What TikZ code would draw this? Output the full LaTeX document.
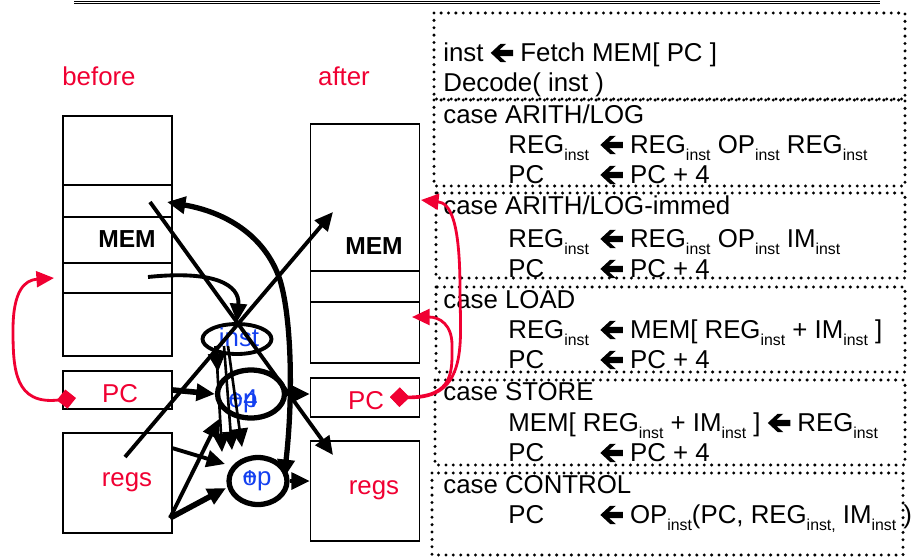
\documentclass[tikz,border=0pt]{standalone}
\usepackage{fontspec}
\setmainfont{Liberation Sans}
\usetikzlibrary{arrows.meta,shapes.geometric}
\definecolor{hot}{HTML}{F00032}
\definecolor{cool}{HTML}{1440F0}
\tikzset{>={Triangle[length=10.5pt,width=9.5pt]},
  every node/.style={font=\fontsize{14.7}{17}\selectfont,inner sep=0pt},
  box/.style={draw,line width=.8pt,minimum width=2.18cm},
  unit/.style={draw,ellipse,line width=3pt,inner sep=0pt},
  wire/.style={->,line width=2.2pt},
  heavy/.style={->,line width=3.2pt},
  back/.style={{Diamond[length=11pt,width=11pt]}-{Triangle[length=10pt,width=9pt]},draw=hot,line width=1.6pt},
  casebox/.style={draw,line width=1.9pt,dash pattern=on 0pt off 4.2pt,line cap=round},
  txt/.style={anchor=base west},
  lbl/.style={anchor=base,text=hot},
  sig/.style={anchor=base,text=cool},
  memtxt/.style={anchor=base,font=\fontsize{14}{17}\selectfont\bfseries}}
\newcommand\sub[1]{\raisebox{-.3em}{\fontsize{9}{9}\selectfont#1}}
\newcommand\larr{\tikz[baseline=0pt]\fill(0pt,4.6pt)--(5.6pt,9.8pt)--(8.8pt,9.8pt)--(5pt,6.4pt)--(12.8pt,6.4pt)--(12.8pt,2.8pt)--(5pt,2.8pt)--(8.8pt,-.6pt)--(5.6pt,-.6pt)--cycle;}

\begin{document}
\begin{tikzpicture}[x=.02cm,y=-.02cm]
\useasboundingbox(0,0)rectangle(912,558);
\draw[line width=.6pt](74,1.2)--(880,1.2);\draw[line width=.6pt](74,3.8)--(880,3.8);
% the cases of the instruction cycle
\draw[casebox](434,13)rectangle(905,99);\draw[casebox](434,100)rectangle(905,186);
\draw[casebox](436,193)rectangle(905,278);\draw[casebox](436,287)rectangle(905,372);
\draw[casebox](435,380)rectangle(905,465);\draw[casebox](432,473)rectangle(903,555);
\node[txt](fetch)at(443,61){inst \larr{} Fetch MEM[ PC ]};
\node[txt](decode)at(443,91){Decode( inst )};
\node[txt](arith)at(443,123){case ARITH/LOG};
\node[txt](arithA)at(508,153){REG\sub{inst}};\node[txt](arithB)at(600,153){\larr{} REG\sub{inst} OP\sub{inst} REG\sub{inst}};
\node[txt](arithC)at(508,183){PC};\node[txt](arithD)at(600,183){\larr{} PC + 4};
\node[txt](immed)at(443,214){case ARITH/LOG-immed};
\node[txt](immedA)at(508,247){REG\sub{inst}};\node[txt](immedB)at(600,247){\larr{} REG\sub{inst} OP\sub{inst} IM\sub{inst}};
\node[txt](immedC)at(508,277){PC};\node[txt](immedD)at(600,277){\larr{} PC + 4};
\node[txt](load)at(443,308){case LOAD};
\node[txt](loadA)at(508,338){REG\sub{inst}};\node[txt](loadB)at(600,338){\larr{} MEM[ REG\sub{inst} + IM\sub{inst} ]};
\node[txt](loadC)at(508,368){PC};\node[txt](loadD)at(600,368){\larr{} PC + 4};
\node[txt](store)at(443,400){case STORE};
\node[txt](storeA)at(508,431){MEM[ REG\sub{inst} + IM\sub{inst} ] \larr{} REG\sub{inst}};
\node[txt](storeC)at(508,461){PC};\node[txt](storeD)at(600,461){\larr{} PC + 4};
\node[txt](ctrl)at(443,493){case CONTROL};
\node[txt](ctrlC)at(508,523){PC};\node[txt](ctrlD)at(600,523){\larr{} OP\sub{inst}(PC, REG\sub{inst,} IM\sub{inst} )};
% state before and after
\node[lbl](before)at(99,85){before};\node[lbl](after)at(344,85){after};
\node[box,minimum height=4.8cm](bmem)at(117.5,236){};\foreach \y in {185,217,263,293}\draw[line width=.8pt](63,\y)--(172,\y);
\node[memtxt](bmemtxt)at(127,247){MEM};
\node[box,minimum height=.76cm](bpc)at(117.5,390){};\node[lbl](bpctxt)at(120,402){PC};
\node[box,minimum height=2cm](bregs)at(117.5,483){};\node[lbl](bregstxt)at(127,486){regs};
\node[box,minimum height=4.78cm](amem)at(365,243.5){};\foreach \y in {271,302}\draw[line width=.8pt](311,\y)--(419,\y);
\node[memtxt](amemtxt)at(374,254){MEM};
\node[box,minimum height=.78cm](apc)at(365,397.5){};\node[lbl](apctxt)at(366,409){PC};
\node[box,minimum height=2cm](aregs)at(365,491){};\node[lbl](aregstxt)at(374,494){regs};
% datapath
\node[unit,line width=2.2pt,minimum width=1.38cm,minimum height=.6cm](inst)at(237,339){};
\node[unit,minimum width=1.34cm,minimum height=.96cm](plus)at(251,394){};
\node[unit,minimum width=1.16cm,minimum height=.94cm](opr)at(258,481){};
\node[sig](instlab)at(239,346){inst};
\node[sig](pluslab)at(243,407){op};\node[sig](plusfour)at(243,407){+4};
\node[sig](oplab)at(257,485){op};\node[sig](opplus)at(250,485){+};
\coordinate(m1)at(150,202);\coordinate(m2)at(167,202);\coordinate(m3)at(148,277);
\coordinate(r1)at(125,457);\coordinate(r2)at(172,448);\coordinate(r3)at(170,518);
\coordinate(am1)at(333,212);\coordinate(ar1)at(333,455);
\coordinate(i1)at(216,346);\coordinate(i2)at(224,346);\coordinate(i3)at(228,346);
\coordinate(p1)at(218,372);\coordinate(p2)at(219,419);
\coordinate(o1)at(222,452);\coordinate(o2)at(232,450);\coordinate(o3)at(242,447);
\coordinate(o4)at(225,464);\coordinate(o5)at(226,488);\coordinate(o6)at(284,478);
\draw[wire](m1)--(ar1);\draw[wire](r1)--(am1);
\draw[wire](m3)..controls(215,270)and(240,285)..(inst.north);
\draw[<->,line width=3pt](o6)..controls(293,400)and(292,320)..(280,280)..controls(265,235)and(225,212)..(m2);
\draw[heavy](bpc.east)--(plus.west);\draw[wire](plus.east)--(apc.west|-plus.east);
\draw[wire](i1)--(p1);\draw[wire,line width=1.5pt](i1)--(o1);\draw[wire,line width=1.5pt](i2)--(o2);\draw[wire,line width=1.5pt](i3)--(o3);
\draw[wire](r2)--(o4);\draw[heavy](r3)--(o5);\draw[wire](r3)--(p2);
\draw[wire](opr.east)--(aregs.west|-opr.east);
% pc updates
\coordinate(d1)at(76,398);\coordinate(t1)at(54,278);
\coordinate(d2)at(390,397);\coordinate(t2)at(421,200);\coordinate(t3)at(412,317);
\draw[back](d1)..controls(15,405)and(13,370)..(13,330)..controls(13,290)and(25,280)..(t1);
\draw[back](d2)..controls(470,400)and(460,340)..(460,290)..controls(460,220)and(450,203)..(t2);
\draw[back](d2)..controls(455,397)and(452,370)..(452,345)..controls(452,325)and(440,317)..(t3);
\end{tikzpicture}
\end{document}
